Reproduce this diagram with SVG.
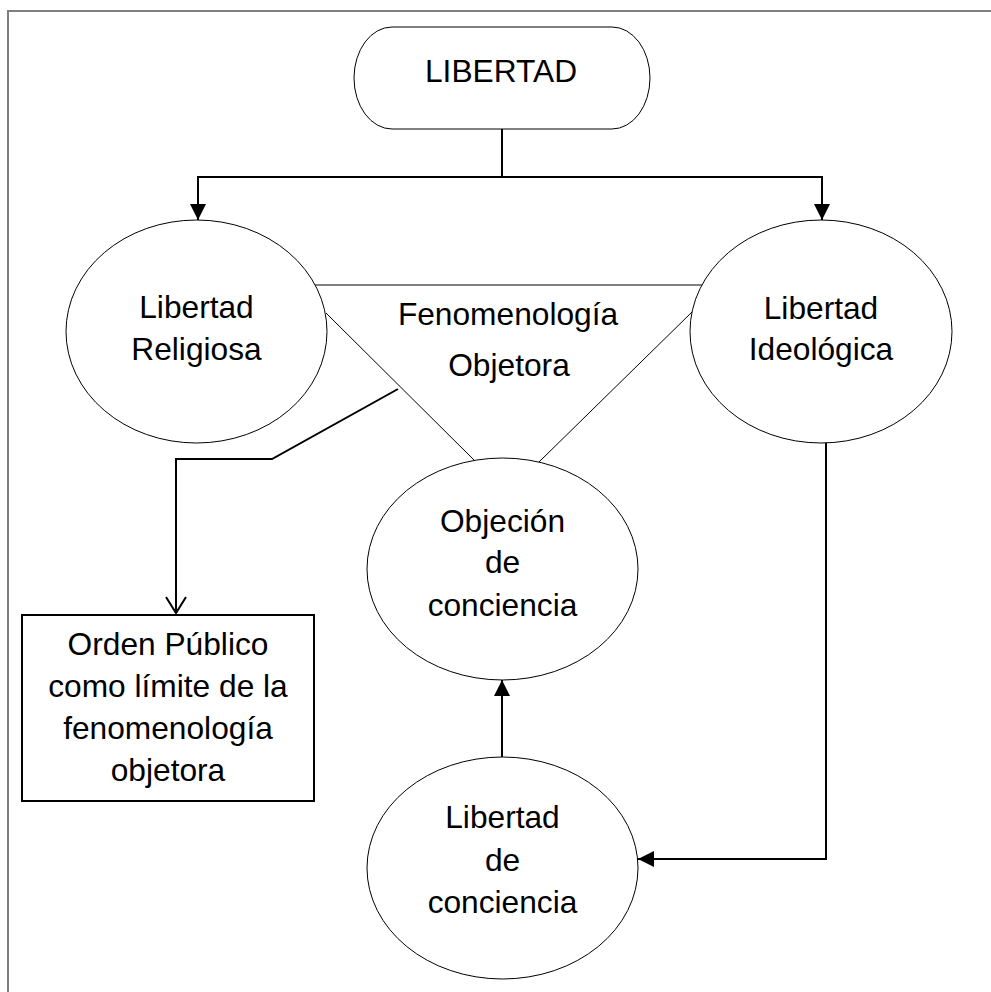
<svg xmlns="http://www.w3.org/2000/svg" width="991" height="992" viewBox="0 0 991 992">
  <style>
    .shape { fill: #ffffff; stroke: #000000; stroke-width: 1; }
    .box { fill: #ffffff; stroke: #000000; stroke-width: 2; }
    .lbl { font-family: "Liberation Sans", Arial, sans-serif; font-size: 31.7px; fill: #000000; text-anchor: middle; }
    .conn { fill: none; stroke: #000000; stroke-width: 2; }
    .thin { fill: none; stroke: #000000; stroke-width: 1; }
    .frame { fill: none; stroke: #7f7f7f; stroke-width: 2; }
  </style>
  <defs>
    <marker id="arrow" viewBox="0 0 16 16" refX="16" refY="8" markerWidth="16" markerHeight="16" markerUnits="userSpaceOnUse" orient="auto">
      <path d="M0,0 L16,8 L0,16 Z" fill="#000000"/>
    </marker>
    <marker id="open" viewBox="0 0 18 22" refX="17" refY="11" markerWidth="18" markerHeight="22" markerUnits="userSpaceOnUse" orient="auto">
      <path d="M1,1 L17,11 L1,21" fill="none" stroke="#000000" stroke-width="2"/>
    </marker>
  </defs>
  <rect x="0" y="0" width="991" height="992" fill="#ffffff"/>
  <path class="frame" d="M8,992 V11 H991"/>

  <g id="connectors">
    <line class="thin" x1="315" y1="285" x2="702" y2="285"/>
    <line class="thin" x1="326" y1="313" x2="475" y2="461"/>
    <line class="thin" x1="692" y1="312" x2="539" y2="462"/>
    <path class="conn" d="M502,129 V177 H198 V220" marker-end="url(#arrow)"/>
    <path class="conn" d="M502,177 H822 V220" marker-end="url(#arrow)"/>
    <path class="conn" d="M826,443 V859 H638" marker-end="url(#arrow)"/>
    <path class="conn" d="M502,757 V680" marker-end="url(#arrow)"/>
    <path class="conn" d="M398,389 L272,459 H176 V613" marker-end="url(#open)"/>
  </g>

  <g id="libertad">
    <rect class="shape" x="354" y="27" width="296" height="102" rx="38" ry="51"/>
    <text class="lbl" x="501" y="82">LIBERTAD</text>
  </g>

  <g id="libertad-religiosa">
    <ellipse class="shape" cx="196.5" cy="331.5" rx="130.5" ry="111.5"/>
    <text class="lbl" x="196.5" y="318">Libertad</text>
    <text class="lbl" x="196.5" y="360">Religiosa</text>
  </g>

  <g id="libertad-ideologica">
    <ellipse class="shape" cx="821" cy="331.5" rx="131" ry="111.5"/>
    <text class="lbl" x="821" y="319">Libertad</text>
    <text class="lbl" x="821" y="360">Ideológica</text>
  </g>

  <g id="fenomenologia">
    <text class="lbl" x="508" y="325">Fenomenología</text>
    <text class="lbl" x="509" y="376">Objetora</text>
  </g>

  <g id="objecion">
    <ellipse class="shape" cx="502.5" cy="569" rx="135.5" ry="111"/>
    <text class="lbl" x="502.5" y="532">Objeción</text>
    <text class="lbl" x="502.5" y="573">de</text>
    <text class="lbl" x="502.5" y="616">conciencia</text>
  </g>

  <g id="libertad-conciencia">
    <ellipse class="shape" cx="502.5" cy="868" rx="135.5" ry="111"/>
    <text class="lbl" x="502.5" y="828">Libertad</text>
    <text class="lbl" x="502.5" y="871">de</text>
    <text class="lbl" x="502.5" y="913">conciencia</text>
  </g>

  <g id="orden-publico">
    <rect class="box" x="22" y="615" width="292" height="186"/>
    <text class="lbl" x="168" y="655">Orden Público</text>
    <text class="lbl" x="168" y="697">como límite de la</text>
    <text class="lbl" x="168" y="739">fenomenología</text>
    <text class="lbl" x="168" y="781">objetora</text>
  </g>
</svg>
